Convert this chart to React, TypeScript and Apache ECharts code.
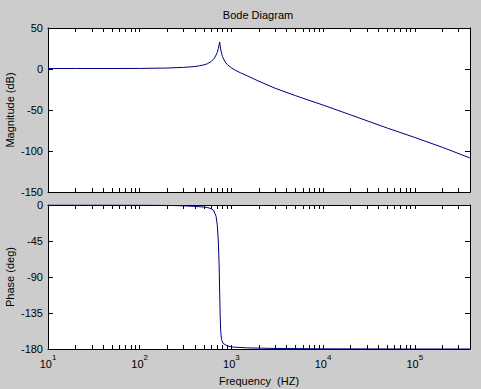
import React, { useEffect, useRef } from "react";
import * as echarts from "echarts";

// Magnitude curve
const magFreq = [10, 20, 50, 100, 200, 300, 400, 450, 500, 550, 600, 650, 680, 700, 720, 735, 745, 755, 770, 800, 850, 900, 1000, 1100, 1250, 1500, 2000, 3000, 5000, 10000, 20000, 50000, 100000, 200000, 400000];
const magDb = [0.6, 0.6, 0.6, 0.7, 1.2, 2, 3, 4, 5, 6.5, 9, 13, 17, 20, 25, 30, 33, 28, 22, 15, 9, 5.5, 1.5, -1.5, -4.5, -8.5, -15, -23.5, -32.5, -44, -56, -72, -83.5, -95.5, -108.5];

// Phase curve
const phaseFreq = [10, 100, 200, 300, 400, 500, 550, 600, 640, 680, 700, 720, 735, 745, 755, 765, 780, 810, 900, 1000, 1500, 3000, 10000, 100000, 400000];
const phaseDeg = [0, -0.1, -0.5, -1, -1.8, -2.5, -3.2, -4.5, -6.5, -14, -24, -45, -75, -110, -140, -158, -168, -173, -176, -177.5, -178.6, -179.3, -179.8, -180, -180];

// Axis ticks and labels
const decadeLabels = [10, 100, 1000, 10000, 100000];
const logTicks = [
  10, 20, 30, 40, 50, 60, 70, 80, 90,
  100, 200, 300, 400, 500, 600, 700, 800, 900,
  1000, 2000, 3000, 4000, 5000, 6000, 7000, 8000, 9000,
  10000, 20000, 30000, 40000, 50000, 60000, 70000, 80000, 90000,
  100000, 200000, 300000, 400000,
];
const xMin = 10;
const xMax = 400000;

const FONT = "'Liberation Sans', Arial, sans-serif";

export default function App() {
  const ref = useRef<HTMLDivElement>(null);

  useEffect(() => {
    if (!ref.current) return;
    const chart = echarts.init(ref.current, undefined, { renderer: "svg" });

    const line = { lineStyle: { color: "#000", width: 1 } };
    const xBase = (gridIndex: number, position: "top" | "bottom", labels: boolean) => ({
      type: "log",
      logBase: 10,
      gridIndex,
      position,
      min: xMin,
      max: xMax,
      axisLine: { show: true, onZero: false, ...line },
      axisTick: { show: true, inside: true, length: 4, customValues: logTicks, lineStyle: { color: "#000" } },
      splitLine: { show: false },
      minorTick: { show: false },
      axisLabel: labels
        ? {
            show: true,
            customValues: decadeLabels,
            margin: 4,
            align: "center",
            hideOverlap: false,
            formatter: (v: number) => `{b|10}{s|${Math.round(Math.log10(v))}}`,
            rich: {
              b: { fontSize: 11, fontFamily: FONT, color: "#000" },
              s: { fontSize: 8, fontFamily: FONT, color: "#000", padding: [0, 0, 14, 0] },
            },
          }
        : { show: false },
    });
    const yBase = (gridIndex: number, position: "left" | "right", min: number, max: number, interval: number, labels: boolean) => ({
      type: "value",
      gridIndex,
      position,
      min,
      max,
      interval,
      axisLine: { show: true, onZero: false, ...line },
      axisTick: { show: true, inside: true, length: 5, lineStyle: { color: "#000" } },
      splitLine: { show: false },
      axisLabel: labels
        ? { show: true, fontSize: 11, fontFamily: FONT, color: "#000", margin: 5 }
        : { show: false },
    });

    const gridCommon = {
      show: true,
      backgroundColor: "#fff",
      borderWidth: 0,
      containLabel: false,
      outerBoundsMode: "none",
    };

    const txt = (text: string, x: number, y: number, rotation = 0) => ({
      type: "text",
      x,
      y,
      rotation,
      silent: true,
      style: {
        text,
        fill: "#000",
        fontSize: 11,
        fontFamily: FONT,
        textAlign: "center",
        textVerticalAlign: "middle",
      },
    });

    chart.setOption({
      animation: false,
      backgroundColor: "#cccccc",
      textStyle: { fontFamily: FONT },
      graphic: [
        txt("Bode Diagram", 258, 15),
        txt("Magnitude (dB)", 10, 110, Math.PI / 2),
        txt("Phase (deg)", 10, 277, Math.PI / 2),
      ],
      grid: [
        { ...gridCommon, left: 48, top: 28, width: 422, height: 164 },
        { ...gridCommon, left: 48, top: 205, width: 422, height: 144 },
      ],
      xAxis: [
        xBase(0, "bottom", false),
        xBase(0, "top", false),
        {
          ...xBase(1, "bottom", true),
          name: "Frequency  (HZ)",
          nameLocation: "middle",
          nameGap: 26,
          nameTextStyle: { fontSize: 11, color: "#000", fontFamily: FONT },
        },
        xBase(1, "top", false),
      ],
      yAxis: [
        yBase(0, "left", -150, 50, 50, true),
        yBase(0, "right", -150, 50, 50, false),
        yBase(1, "left", -180, 0, 45, true),
        yBase(1, "right", -180, 0, 45, false),
      ],
      series: [
        {
          type: "line",
          xAxisIndex: 0,
          yAxisIndex: 0,
          data: magFreq.map((f, i) => [f, magDb[i]]),
          showSymbol: false,
          symbol: "none",
          lineStyle: { color: "#000080", width: 1 },
          silent: true,
        },
        {
          type: "line",
          xAxisIndex: 2,
          yAxisIndex: 2,
          data: phaseFreq.map((f, i) => [f, phaseDeg[i]]),
          showSymbol: false,
          symbol: "none",
          lineStyle: { color: "#000080", width: 1 },
          silent: true,
        },
      ],
    });

    return () => chart.dispose();
  }, []);

  return (
    <div
      ref={ref}
      style={{ position: "fixed", left: 0, top: 0, width: 481, height: 389 }}
    />
  );
}
